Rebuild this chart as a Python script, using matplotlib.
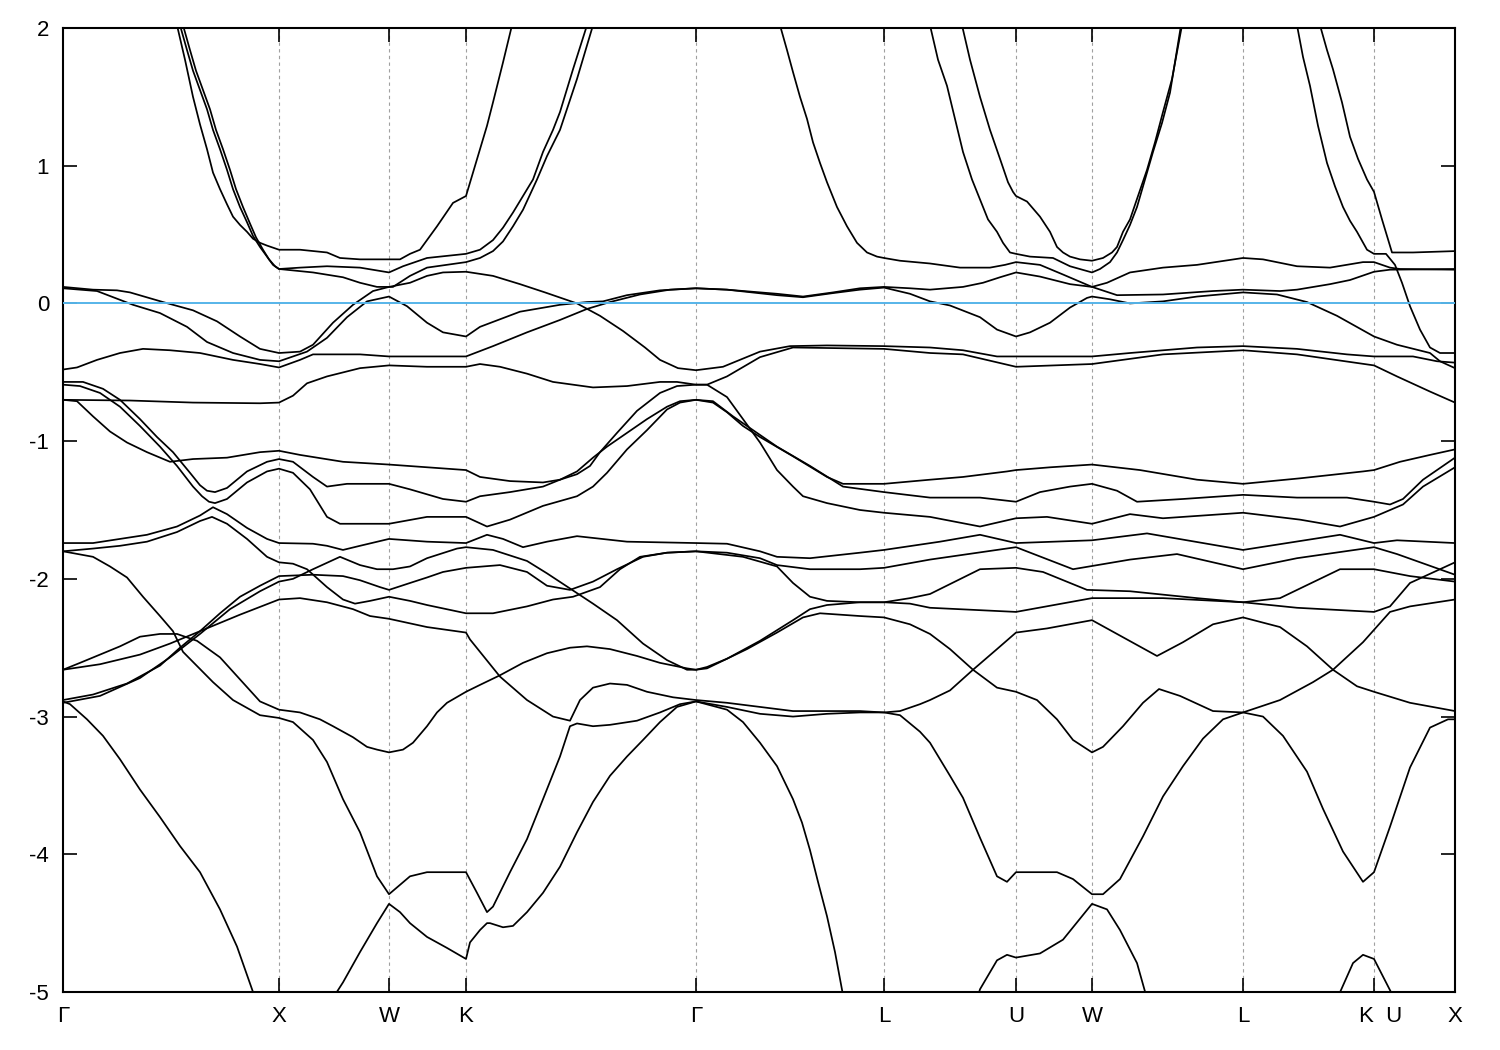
import matplotlib
matplotlib.use("Agg")
import matplotlib.pyplot as plt
from matplotlib.transforms import ScaledTranslation

plt.rcParams['font.family'] = ['Liberation Sans', 'DejaVu Sans']

# high-symmetry points along the k-path (arbitrary path units)
k_ticks = [63, 279, 389, 466, 696, 884, 1016, 1092, 1243, 1374, 1455]
k_labels = ['Γ', 'X', 'W', 'K', 'Γ', 'L', 'U', 'W', 'L', 'K  U', 'X']
e_ticks = [-5, -4, -3, -2, -1, 0, 1, 2]

# bands as (k, E[eV])
C1 = [(177, 2.02), (185, 1.77), (193, 1.50), (200, 1.30), (207, 1.12), (213, 0.95), (220, 0.83),
      (227, 0.72), (233, 0.63), (240, 0.57), (247, 0.52), (253, 0.47), (260, 0.44), (267, 0.42),
      (279, 0.39), (300, 0.39), (327, 0.37), (340, 0.33), (360, 0.32), (400, 0.32), (410, 0.36),
      (420, 0.39), (437, 0.56), (453, 0.73), (466, 0.78), (473, 0.95), (480, 1.12), (487, 1.29),
      (493, 1.46), (503, 1.75), (512, 2.02)]
C2 = [(180, 2.02), (187, 1.84), (193, 1.69), (200, 1.55), (207, 1.41), (213, 1.26), (220, 1.12),
      (227, 0.97), (233, 0.83), (240, 0.70), (247, 0.59), (253, 0.49), (260, 0.41), (267, 0.34),
      (273, 0.28), (279, 0.25), (300, 0.26), (327, 0.27), (360, 0.26), (389, 0.225), (403, 0.27),
      (427, 0.33), (466, 0.36), (480, 0.39), (493, 0.46), (503, 0.55), (513, 0.66), (523, 0.78),
      (533, 0.90), (543, 1.10), (553, 1.26), (560, 1.39), (573, 1.70), (587, 2.02)]
C3 = [(183, 2.02), (190, 1.84), (196, 1.69), (203, 1.55), (210, 1.41), (216, 1.26), (223, 1.12),
      (230, 0.97), (236, 0.83), (243, 0.70), (250, 0.58), (256, 0.48), (263, 0.39), (269, 0.32),
      (275, 0.27), (279, 0.25), (313, 0.225), (343, 0.19), (360, 0.15), (377, 0.12), (389, 0.12),
      (393, 0.12), (410, 0.20), (427, 0.26), (466, 0.30), (480, 0.33), (493, 0.38), (503, 0.45),
      (513, 0.56), (523, 0.68), (537, 0.90), (547, 1.07), (560, 1.26), (577, 1.63), (593, 2.02)]
C5 = [(780, 2.02), (787, 1.84), (793, 1.68), (800, 1.50), (807, 1.34), (813, 1.17), (820, 1.02),
      (827, 0.88), (837, 0.70), (847, 0.56), (857, 0.44), (867, 0.37), (877, 0.34), (884, 0.33),
      (900, 0.31), (930, 0.29), (960, 0.26), (990, 0.26), (1005, 0.28), (1016, 0.30), (1040, 0.28),
      (1063, 0.21), (1092, 0.12), (1107, 0.15), (1130, 0.225), (1163, 0.26), (1197, 0.28),
      (1243, 0.33), (1263, 0.32), (1297, 0.27), (1330, 0.26), (1363, 0.30), (1374, 0.30),
      (1390, 0.26), (1400, 0.25), (1455, 0.245)]
C1b = [(962, 2.02), (970, 1.77), (980, 1.50), (990, 1.26), (1000, 1.05), (1008, 0.88), (1013, 0.81),
       (1016, 0.78), (1027, 0.74), (1040, 0.63), (1050, 0.52), (1057, 0.41), (1063, 0.37),
       (1070, 0.34), (1080, 0.32), (1092, 0.31), (1103, 0.33), (1112, 0.37), (1117, 0.41),
       (1123, 0.52), (1130, 0.61), (1138, 0.78), (1147, 0.97), (1155, 1.17), (1163, 1.39),
       (1172, 1.63), (1182, 2.02)]
C2b = [(930, 2.02), (938, 1.77), (947, 1.58), (955, 1.34), (963, 1.10), (972, 0.90), (980, 0.755),
       (988, 0.61), (997, 0.52), (1003, 0.44), (1010, 0.37), (1016, 0.36), (1030, 0.34),
       (1053, 0.33), (1070, 0.27), (1092, 0.225), (1100, 0.25), (1110, 0.30), (1117, 0.37),
       (1123, 0.46), (1130, 0.57), (1137, 0.70), (1145, 0.90), (1153, 1.10), (1162, 1.31),
       (1170, 1.53), (1181, 2.02)]
C6 = [(1297, 2.02), (1303, 1.79), (1310, 1.58), (1318, 1.29), (1327, 1.02), (1335, 0.85),
      (1343, 0.70), (1350, 0.60), (1357, 0.52), (1367, 0.39), (1374, 0.36), (1386, 0.36),
      (1395, 0.28), (1402, 0.15), (1410, -0.02), (1420, -0.19), (1430, -0.32), (1440, -0.36),
      (1455, -0.36)]
C7 = [(1320, 2.02), (1327, 1.84), (1333, 1.70), (1342, 1.46), (1350, 1.21), (1358, 1.05),
      (1367, 0.90), (1374, 0.81), (1382, 0.61), (1392, 0.37), (1413, 0.37), (1455, 0.38)]

V1 = [(63, 0.12), (93, 0.10), (117, 0.095), (130, 0.08), (163, 0.01), (193, -0.05), (217, -0.13),
      (240, -0.24), (260, -0.33), (279, -0.36), (300, -0.35), (313, -0.30), (333, -0.14),
      (353, -0.01), (373, 0.09), (389, 0.12), (410, 0.15), (427, 0.20), (443, 0.225), (466, 0.23),
      (493, 0.20), (520, 0.14), (545, 0.08), (577, 0.0), (600, -0.09), (623, -0.20), (645, -0.32),
      (660, -0.41), (678, -0.47), (696, -0.485), (723, -0.46), (760, -0.35), (790, -0.31),
      (827, -0.305), (884, -0.31), (930, -0.32), (963, -0.34), (997, -0.385), (1016, -0.385),
      (1092, -0.385), (1130, -0.36), (1197, -0.32), (1243, -0.31), (1297, -0.33), (1347, -0.37),
      (1374, -0.385), (1413, -0.385), (1437, -0.42), (1455, -0.43)]
V2 = [(63, 0.11), (97, 0.09), (133, -0.01), (160, -0.07), (187, -0.17), (207, -0.28), (233, -0.36),
      (260, -0.41), (279, -0.42), (293, -0.385), (307, -0.35), (327, -0.25), (347, -0.10),
      (367, 0.015), (389, 0.05), (407, -0.02), (427, -0.14), (443, -0.21), (466, -0.24),
      (480, -0.17), (520, -0.06), (560, -0.01), (587, 0.01), (603, 0.015), (627, 0.06),
      (660, 0.095), (696, 0.11), (727, 0.10), (777, 0.06), (803, 0.045), (833, 0.075), (860, 0.10),
      (884, 0.115), (910, 0.07), (930, 0.015), (950, -0.015), (980, -0.10), (997, -0.19),
      (1016, -0.24), (1030, -0.21), (1050, -0.14), (1070, -0.03), (1087, 0.04), (1092, 0.05),
      (1110, 0.03), (1130, 0.0), (1163, 0.015), (1197, 0.05), (1243, 0.08), (1277, 0.065),
      (1307, 0.01), (1337, -0.09), (1374, -0.24), (1397, -0.30), (1430, -0.36), (1440, -0.42),
      (1455, -0.47)]
V3 = [(63, -0.48), (77, -0.465), (97, -0.41), (120, -0.36), (143, -0.33), (170, -0.34), (200, -0.36),
      (233, -0.41), (260, -0.44), (279, -0.465), (300, -0.41), (313, -0.37), (360, -0.37),
      (389, -0.385), (466, -0.385), (493, -0.31), (527, -0.21), (560, -0.12), (587, -0.04),
      (610, 0.01), (640, 0.065), (670, 0.10), (696, 0.11), (727, 0.10), (777, 0.07), (803, 0.05),
      (833, 0.08), (860, 0.11), (884, 0.12), (910, 0.11), (930, 0.10), (963, 0.12), (983, 0.15),
      (1000, 0.19), (1016, 0.225), (1040, 0.195), (1070, 0.14), (1092, 0.12), (1117, 0.06),
      (1163, 0.065), (1213, 0.09), (1243, 0.10), (1280, 0.09), (1297, 0.10), (1330, 0.14),
      (1350, 0.17), (1374, 0.23), (1390, 0.245), (1455, 0.25)]

G1 = [(63, -0.57), (83, -0.57), (103, -0.62), (120, -0.70), (140, -0.84), (157, -0.97), (173, -1.08),
      (190, -1.23), (200, -1.32), (207, -1.36), (215, -1.37), (227, -1.34), (247, -1.22),
      (267, -1.15), (279, -1.13), (293, -1.15), (313, -1.26), (327, -1.33), (347, -1.31),
      (389, -1.31), (410, -1.35), (443, -1.42), (466, -1.44), (480, -1.40), (510, -1.37),
      (543, -1.33), (560, -1.28), (577, -1.22), (593, -1.12), (607, -1.04), (627, -0.94),
      (647, -0.84), (667, -0.75), (680, -0.71), (696, -0.70), (713, -0.72), (727, -0.79),
      (743, -0.89), (760, -0.97), (793, -1.11), (827, -1.26), (843, -1.31), (884, -1.31),
      (930, -1.28), (963, -1.26), (1007, -1.22), (1016, -1.21), (1050, -1.19), (1092, -1.17),
      (1140, -1.21), (1197, -1.28), (1243, -1.31), (1300, -1.27), (1363, -1.22), (1374, -1.21),
      (1400, -1.15), (1430, -1.10), (1455, -1.06)]
G2 = [(63, -0.59), (80, -0.60), (100, -0.65), (120, -0.75), (140, -0.89), (160, -1.04), (177, -1.18),
      (193, -1.33), (202, -1.40), (209, -1.44), (215, -1.45), (227, -1.42), (247, -1.30),
      (267, -1.22), (279, -1.20), (293, -1.23), (310, -1.35), (327, -1.55), (340, -1.60),
      (389, -1.60), (427, -1.55), (466, -1.55), (487, -1.62), (510, -1.57), (543, -1.47),
      (577, -1.40), (593, -1.33), (607, -1.23), (627, -1.06), (647, -0.92), (667, -0.77),
      (680, -0.72), (696, -0.70), (713, -0.71), (733, -0.82), (753, -0.92), (777, -1.04),
      (810, -1.18), (843, -1.33), (884, -1.37), (930, -1.41), (980, -1.41), (1016, -1.44),
      (1040, -1.37), (1070, -1.33), (1092, -1.31), (1117, -1.36), (1137, -1.44), (1183, -1.42),
      (1243, -1.39), (1297, -1.41), (1347, -1.41), (1374, -1.44), (1390, -1.46), (1403, -1.42),
      (1423, -1.28), (1455, -1.12)]
G3 = [(63, -0.70), (77, -0.71), (93, -0.82), (110, -0.93), (127, -1.01), (147, -1.08), (170, -1.15),
      (193, -1.13), (227, -1.12), (260, -1.08), (279, -1.07), (300, -1.10), (343, -1.15),
      (389, -1.17), (466, -1.21), (480, -1.26), (510, -1.29), (543, -1.30), (560, -1.28),
      (577, -1.24), (590, -1.18), (600, -1.08), (617, -0.94), (637, -0.78), (660, -0.65),
      (677, -0.60), (696, -0.59), (707, -0.59), (727, -0.68), (743, -0.84), (760, -1.01),
      (777, -1.21), (793, -1.33), (803, -1.40), (827, -1.45), (860, -1.50), (884, -1.52),
      (930, -1.55), (980, -1.62), (1016, -1.56), (1047, -1.55), (1092, -1.60), (1130, -1.53),
      (1163, -1.56), (1243, -1.52), (1300, -1.57), (1340, -1.62), (1374, -1.55), (1403, -1.46),
      (1423, -1.33), (1455, -1.19)]
G4 = [(63, -0.70), (130, -0.705), (193, -0.72), (260, -0.725), (279, -0.72), (293, -0.67),
      (307, -0.58), (327, -0.53), (360, -0.47), (389, -0.45), (427, -0.46), (466, -0.46),
      (480, -0.44), (500, -0.46), (527, -0.51), (553, -0.57), (593, -0.61), (627, -0.60),
      (660, -0.57), (677, -0.57), (696, -0.59), (707, -0.59), (727, -0.53), (760, -0.39),
      (793, -0.32), (884, -0.33), (930, -0.36), (963, -0.37), (1016, -0.46), (1092, -0.44),
      (1163, -0.37), (1243, -0.34), (1297, -0.37), (1374, -0.45), (1397, -0.53), (1430, -0.64),
      (1455, -0.72)]

H = [(63, -1.74), (93, -1.74), (120, -1.71), (147, -1.68), (177, -1.62), (200, -1.54), (213, -1.48),
     (227, -1.53), (247, -1.63), (267, -1.71), (279, -1.74), (313, -1.745), (327, -1.76),
     (343, -1.79), (360, -1.76), (389, -1.71), (427, -1.73), (466, -1.74), (487, -1.68),
     (503, -1.71), (523, -1.77), (547, -1.73), (577, -1.69), (627, -1.73), (696, -1.74),
     (727, -1.745), (760, -1.80), (777, -1.84), (810, -1.85), (860, -1.81), (884, -1.79),
     (940, -1.73), (980, -1.68), (1016, -1.74), (1092, -1.72), (1147, -1.67), (1243, -1.79),
     (1340, -1.68), (1374, -1.74), (1397, -1.72), (1455, -1.74)]
I = [(63, -1.80), (93, -1.78), (120, -1.76), (147, -1.73), (177, -1.66), (200, -1.58), (212, -1.55),
     (227, -1.60), (247, -1.71), (267, -1.84), (279, -1.88), (293, -1.89), (307, -1.93),
     (327, -2.06), (343, -2.15), (355, -2.18), (370, -2.16), (389, -2.13), (410, -2.16),
     (427, -2.19), (466, -2.25), (493, -2.25), (527, -2.20), (553, -2.15), (573, -2.13),
     (600, -2.06), (620, -1.93), (640, -1.84), (667, -1.81), (696, -1.80), (743, -1.84),
     (777, -1.91), (793, -2.03), (810, -2.13), (827, -2.16), (860, -2.17), (884, -2.17),
     (910, -2.18), (930, -2.21), (1016, -2.24), (1092, -2.14), (1163, -2.14), (1243, -2.17),
     (1297, -2.21), (1374, -2.24), (1390, -2.20), (1410, -2.03), (1455, -1.88)]
XA = [(63, -2.88), (93, -2.84), (127, -2.76), (160, -2.63), (180, -2.50), (200, -2.38), (220, -2.25),
      (240, -2.13), (260, -2.05), (279, -1.98), (313, -1.97), (343, -1.98), (360, -2.01),
      (380, -2.06), (389, -2.08), (410, -2.03), (427, -1.99), (443, -1.95), (466, -1.92),
      (500, -1.90), (527, -1.95), (547, -2.05), (570, -2.08), (593, -2.02), (617, -1.93),
      (643, -1.84), (667, -1.81), (696, -1.80), (727, -1.81), (760, -1.85), (777, -1.90),
      (810, -1.93), (860, -1.93), (884, -1.92), (930, -1.86), (1016, -1.77), (1073, -1.93),
      (1130, -1.86), (1177, -1.82), (1243, -1.93), (1297, -1.85), (1374, -1.77), (1397, -1.82),
      (1455, -1.97)]
XB = [(63, -2.90), (100, -2.85), (140, -2.72), (170, -2.57), (200, -2.40), (230, -2.22), (260, -2.09),
      (279, -2.02), (293, -2.00), (313, -1.93), (340, -1.84), (360, -1.90), (377, -1.93),
      (393, -1.93), (410, -1.91), (427, -1.85), (457, -1.78), (466, -1.77), (493, -1.79),
      (527, -1.87), (547, -1.96), (570, -2.07), (593, -2.18), (617, -2.30), (643, -2.47),
      (667, -2.59), (687, -2.66), (696, -2.66), (707, -2.65), (727, -2.58), (760, -2.45),
      (793, -2.30), (810, -2.22), (827, -2.19), (860, -2.17), (884, -2.17), (910, -2.14),
      (930, -2.11), (980, -1.93), (1016, -1.92), (1043, -1.95), (1087, -2.08), (1130, -2.09),
      (1197, -2.14), (1243, -2.17), (1280, -2.14), (1340, -1.93), (1374, -1.93), (1410, -1.98),
      (1455, -2.02)]
XC = [(63, -2.66), (100, -2.62), (140, -2.55), (170, -2.47), (200, -2.38), (240, -2.26), (279, -2.15),
      (300, -2.14), (327, -2.17), (353, -2.22), (370, -2.27), (389, -2.29), (427, -2.35),
      (466, -2.39), (470, -2.44), (480, -2.53), (500, -2.71), (527, -2.88), (553, -3.00),
      (570, -3.03), (580, -2.88), (593, -2.79), (610, -2.76), (627, -2.77), (647, -2.82),
      (673, -2.86), (696, -2.88), (727, -2.90), (760, -2.93), (793, -2.96), (827, -2.96),
      (860, -2.96), (884, -2.97), (900, -2.96), (920, -2.91), (930, -2.88), (950, -2.81),
      (973, -2.66), (997, -2.51), (1016, -2.39), (1047, -2.36), (1092, -2.30), (1117, -2.40),
      (1157, -2.56), (1183, -2.46), (1213, -2.33), (1243, -2.28), (1280, -2.35), (1307, -2.49),
      (1333, -2.66), (1357, -2.78), (1374, -2.82), (1410, -2.90), (1455, -2.96)]
K1 = [(63, -2.66), (80, -2.61), (100, -2.55), (120, -2.49), (140, -2.42), (160, -2.40), (177, -2.40),
      (197, -2.45), (220, -2.57), (240, -2.73), (260, -2.89), (279, -2.95), (300, -2.97),
      (320, -3.02), (333, -3.07), (353, -3.15), (367, -3.22), (377, -3.24), (389, -3.26),
      (403, -3.24), (413, -3.19), (427, -3.07), (437, -2.97), (447, -2.90), (466, -2.82),
      (480, -2.77), (500, -2.70), (523, -2.61), (547, -2.54), (570, -2.50), (587, -2.49),
      (610, -2.51), (637, -2.56), (660, -2.61), (687, -2.65), (696, -2.66), (707, -2.64),
      (727, -2.58), (747, -2.51), (777, -2.39), (803, -2.28), (820, -2.25), (860, -2.27),
      (884, -2.28), (910, -2.33), (930, -2.40), (950, -2.51), (973, -2.66), (997, -2.79),
      (1016, -2.82), (1037, -2.88), (1057, -3.02), (1073, -3.17), (1092, -3.26), (1103, -3.22),
      (1123, -3.07), (1143, -2.90), (1159, -2.80), (1180, -2.85), (1213, -2.96), (1243, -2.97),
      (1280, -2.88), (1313, -2.75), (1333, -2.66), (1363, -2.46), (1390, -2.24), (1410, -2.20),
      (1455, -2.15)]
J = [(63, -1.80), (93, -1.84), (110, -1.91), (127, -1.99), (143, -2.13), (160, -2.27), (173, -2.38),
     (183, -2.53), (213, -2.75), (233, -2.88), (260, -2.99), (279, -3.01), (293, -3.04),
     (313, -3.17), (327, -3.33), (343, -3.60), (360, -3.84), (377, -4.16), (389, -4.29),
     (410, -4.16), (427, -4.13), (466, -4.13), (477, -4.28), (487, -4.42), (493, -4.38),
     (510, -4.13), (527, -3.89), (543, -3.60), (560, -3.29), (570, -3.07), (577, -3.05),
     (593, -3.07), (610, -3.06), (637, -3.03), (660, -2.97), (680, -2.91), (696, -2.89),
     (727, -2.95), (743, -3.04), (760, -3.19), (777, -3.36), (793, -3.60), (802, -3.77),
     (810, -3.97), (818, -4.20), (827, -4.45), (835, -4.71), (845, -5.10)]
LD = [(63, -2.89), (70, -2.91), (87, -3.02), (103, -3.14), (120, -3.31), (140, -3.53), (160, -3.73),
      (180, -3.94), (200, -4.13), (220, -4.40), (237, -4.67), (253, -5.00), (257, -5.10)]
L5 = [(328, -5.10), (343, -4.93), (360, -4.71), (377, -4.50), (389, -4.36), (400, -4.42),
      (410, -4.50), (427, -4.60), (447, -4.68), (466, -4.76), (470, -4.64), (480, -4.55),
      (487, -4.50), (490, -4.50), (503, -4.53), (513, -4.52), (527, -4.42), (543, -4.28),
      (560, -4.09), (577, -3.84), (593, -3.62), (610, -3.43), (627, -3.29), (643, -3.17),
      (660, -3.04), (677, -2.93), (696, -2.89), (727, -2.93), (760, -2.98), (793, -3.00),
      (827, -2.98), (860, -2.97), (884, -2.97), (900, -2.99), (920, -3.11), (930, -3.19),
      (950, -3.43), (963, -3.59), (980, -3.88), (997, -4.16), (1007, -4.20), (1016, -4.13),
      (1057, -4.13), (1073, -4.18), (1092, -4.29), (1103, -4.29), (1120, -4.18), (1143, -3.87),
      (1163, -3.58), (1183, -3.36), (1203, -3.16), (1223, -3.02), (1243, -2.97), (1263, -3.00),
      (1283, -3.14), (1307, -3.40), (1323, -3.67), (1343, -3.98), (1363, -4.20), (1374, -4.13),
      (1390, -3.80), (1410, -3.37), (1430, -3.08), (1448, -3.02), (1455, -3.02)]
LW = [(975, -5.10), (980, -4.98), (997, -4.77), (1007, -4.73), (1016, -4.75), (1040, -4.72),
      (1063, -4.62), (1092, -4.36), (1107, -4.40), (1120, -4.55), (1137, -4.79), (1149, -5.10)]
LK = [(1334, -5.10), (1353, -4.79), (1363, -4.73), (1374, -4.76), (1398, -5.10)]

bands = [C1, C2, C3, C5, C1b, C2b, C6, C7, V1, V2, V3, G1, G2, G3, G4,
         H, I, XA, XB, XC, K1, J, LD, L5, LW, LK]

fig = plt.figure(figsize=(15, 10.5), dpi=100)
ax = fig.add_axes([63 / 1500, 58 / 1050, 1392 / 1500, 964 / 1050])

for band in bands:
    k, e = zip(*band)
    ax.plot(k, e, color='black', lw=1.25, solid_joinstyle='round', zorder=2)

for kt in k_ticks[1:-1]:
    ax.axvline(kt, color='#a0a0a0', lw=0.8, ls=(0, (3, 3)), zorder=1)
ax.axhline(0, color='#56b4e9', lw=1.4, zorder=3)

ax.set_xlim(k_ticks[0], k_ticks[-1])
ax.set_ylim(-5, 2)
ax.set_xticks(k_ticks)
ax.set_xticklabels(k_labels)
ax.set_yticks(e_ticks)
ax.set_yticklabels([str(v) for v in e_ticks])
ax.tick_params(direction='in', length=10, width=1.2, top=True, right=True,
               labelsize=16, pad=10)
# the "K U" label sits a little right of its tick in the original
ku = ax.get_xticklabels()[9]
ku.set_transform(ku.get_transform() + ScaledTranslation(5 / 72, 0, fig.dpi_scale_trans))
for s in ax.spines.values():
    s.set_linewidth(1.5)

fig.savefig('out.png', dpi=100)
